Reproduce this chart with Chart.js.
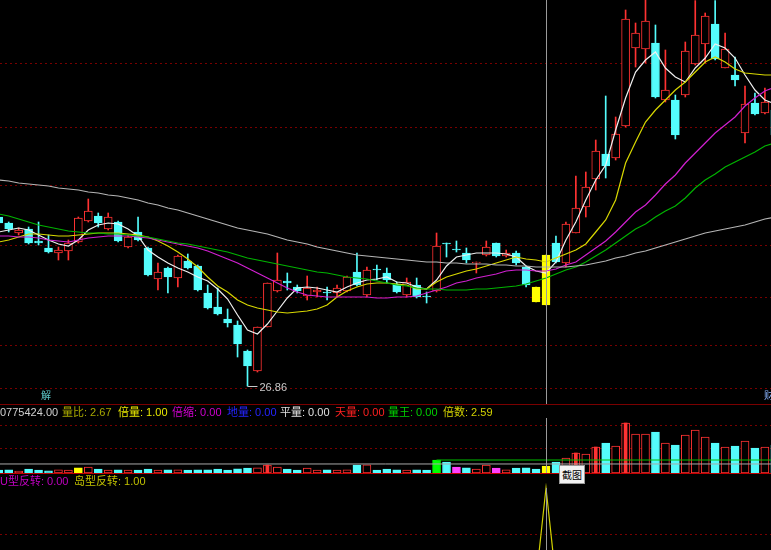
<!DOCTYPE html>
<html>
<head>
<meta charset="utf-8">
<script src="https://cdn.jsdelivr.net/npm/chart.js@4.4.1/dist/chart.umd.min.js"></script>
<style>
html,body{margin:0;padding:0;background:#000;overflow:hidden;}
#wrap{position:relative;width:771px;height:550px;background:#000;overflow:hidden;font-family:"Liberation Sans","Noto Sans CJK SC",sans-serif;}
canvas{position:absolute;left:0;}
.t{position:absolute;font-size:11px;line-height:13px;white-space:nowrap;}
.sep{position:absolute;left:0;width:771px;height:1px;}
</style>
</head>
<body>
<div id="wrap">
<canvas id="main" width="771" height="404" style="top:0px"></canvas>
<canvas id="vol" width="771" height="70" style="top:404px"></canvas>
<canvas id="ind" width="771" height="76" style="top:474px"></canvas>
<div class="sep" style="top:404px;background:#7a0000"></div>
<div class="sep" style="top:473px;background:#c00000"></div>

<span class="t" style="left:0px;top:406px;color:#d0d0d0">0775424.00</span>
<span class="t" style="left:62px;top:406px;color:#a8a800">量比: 2.67</span>
<span class="t" style="left:118px;top:406px;color:#e8e800">倍量: 1.00</span>
<span class="t" style="left:172px;top:406px;color:#d000d0">倍缩: 0.00</span>
<span class="t" style="left:227px;top:406px;color:#2424ff">地量: 0.00</span>
<span class="t" style="left:280px;top:406px;color:#e0e0e0">平量: 0.00</span>
<span class="t" style="left:335px;top:406px;color:#ff2020">天量: 0.00</span>
<span class="t" style="left:388px;top:406px;color:#00d000">量王: 0.00</span>
<span class="t" style="left:443px;top:406px;color:#d0d000">倍数: 2.59</span>

<span class="t" style="left:0px;top:475px;color:#c000c0">U型反转: 0.00</span>
<span class="t" style="left:74px;top:475px;color:#c0c000">岛型反转: 1.00</span>

<span class="t" style="left:41px;top:389px;font-size:10px;color:#5cc8c8">解</span>
<span class="t" style="left:764px;top:389px;font-size:10px;color:#8ab4ff">财</span>

<div style="position:absolute;left:559px;top:465px;width:24px;height:17px;background:#f2f2f2;border:1px solid #9a9a9a;color:#000;font-size:10px;line-height:17px;text-align:center;font-family:'Noto Sans CJK SC',sans-serif;">截图</div>
</div>

<script>
// ---------------- data (index 0 = partially visible first day) ----------------
const open = [
 35.31, 35.01, 34.51, 34.71, 34.11, 33.76, 33.51, 33.61, 34.06, 35.11,
 35.36, 34.71, 35.06, 33.81, 34.56, 33.76, 32.21, 32.76, 32.26, 33.11,
 32.86, 31.51, 30.81, 30.21, 29.91, 28.61, 27.61, 29.81, 31.61, 32.11,
 31.81, 31.36, 31.56, 31.56, 31.51, 31.61, 32.56, 31.41, 32.71, 32.51,
 31.96, 31.41, 31.91, 31.36, 31.61, 34.01, 33.71, 33.51, 33.01, 33.41,
 34.01, 33.36, 33.51, 32.81, 31.81, 30.91, 34.01, 33.01, 34.51, 35.81,
 37.21, 38.46, 38.26, 39.86, 43.76, 43.71, 44.01, 41.16, 41.16, 41.41,
 42.96, 43.96, 44.96, 42.76, 42.41, 39.51, 41.01, 40.51, 40.66];
const close = [
 35.01, 34.71, 34.66, 34.01, 34.01, 33.56, 33.66, 34.01, 35.26, 35.61,
 35.01, 35.31, 34.11, 34.31, 34.16, 32.41, 32.56, 32.31, 33.36, 32.76,
 31.66, 30.76, 30.46, 30.01, 28.96, 27.86, 29.81, 32.01, 32.16, 32.01,
 31.61, 31.76, 31.66, 31.51, 31.76, 32.31, 31.91, 32.66, 32.66, 32.16,
 31.56, 32.06, 31.31, 31.31, 33.86, 33.96, 33.66, 33.16, 33.06, 33.81,
 33.36, 33.51, 33.01, 31.91, 31.06, 33.41, 33.06, 34.96, 35.76, 36.81,
 38.61, 37.86, 39.46, 45.21, 44.51, 45.11, 41.31, 41.66, 39.41, 43.61,
 44.41, 45.36, 43.21, 43.71, 42.16, 40.96, 40.46, 41.06, 39.41];
const high = [
 35.51, 35.06, 34.76, 34.81, 35.06, 34.41, 33.81, 34.16, 35.31, 36.21,
 35.51, 35.51, 35.11, 34.41, 35.31, 33.81, 33.01, 32.81, 33.41, 33.46,
 32.91, 31.91, 31.76, 30.71, 30.11, 28.66, 29.81, 32.01, 33.51, 32.51,
 31.91, 32.36, 31.81, 31.81, 31.91, 32.36, 33.51, 32.81, 32.91, 32.76,
 32.06, 32.26, 32.26, 31.56, 34.51, 34.01, 34.11, 33.76, 33.06, 34.11,
 34.01, 33.66, 33.61, 32.86, 31.81, 33.41, 34.36, 35.06, 37.36, 37.56,
 39.16, 41.36, 40.31, 45.66, 45.01, 46.43, 44.91, 43.66, 41.41, 44.06,
 46.13, 45.51, 46.13, 44.51, 43.31, 41.86, 41.51, 41.76, 40.91];
const low = [
 34.86, 34.56, 34.41, 33.96, 33.91, 33.51, 33.16, 33.16, 34.01, 35.06,
 34.81, 34.66, 34.06, 33.76, 34.11, 32.36, 31.66, 31.51, 31.81, 32.71,
 31.61, 30.71, 30.41, 29.81, 28.31, 26.86, 27.56, 29.81, 31.56, 31.66,
 31.51, 31.16, 31.31, 31.16, 31.31, 31.56, 31.86, 31.31, 32.16, 32.01,
 31.51, 31.31, 31.26, 31.01, 31.56, 33.31, 33.56, 33.01, 32.51, 33.36,
 33.31, 33.31, 32.91, 31.81, 31.06, 30.91, 33.01, 32.81, 34.51, 35.31,
 36.66, 37.26, 38.16, 39.81, 42.81, 43.01, 41.26, 41.06, 39.21, 41.31,
 42.91, 43.01, 43.16, 42.76, 41.86, 39.01, 40.41, 40.46, 39.36];

const ma5 = [
 34.56, 34.66, 34.76, 34.66, 34.41, 34.16, 33.96, 33.86, 34.16, 34.66,
 34.91, 35.01, 34.96, 34.71, 34.36, 33.66, 33.31, 33.01, 32.76, 32.56,
 32.31, 32.11, 31.71, 31.21, 30.41, 29.66, 29.46, 29.96, 30.61, 31.26,
 31.76, 31.81, 31.76, 31.66, 31.56, 31.81, 32.01, 32.16, 32.21, 32.31,
 32.06, 32.01, 31.81, 31.71, 32.16, 32.86, 33.31, 33.41, 33.51, 33.51,
 33.51, 33.46, 33.31, 32.86, 32.61, 32.51, 33.06, 34.16, 35.06, 36.16,
 37.16, 37.91, 39.66, 41.26, 42.56, 43.16, 43.56, 42.76, 42.31, 42.06,
 42.76, 43.26, 43.96, 43.76, 43.26, 42.41, 41.66, 41.16, 40.96];
const ma10 = [
 34.06, 34.16, 34.31, 34.46, 34.46, 34.41, 34.36, 34.36, 34.41, 34.46,
 34.51, 34.51, 34.51, 34.46, 34.41, 34.31, 34.11, 33.86, 33.56, 33.21,
 32.81, 32.31, 31.86, 31.56, 31.16, 30.91, 30.76, 30.66, 30.56, 30.51,
 30.56, 30.61, 30.71, 30.91, 31.31, 31.61, 31.81, 31.96, 32.01, 32.01,
 31.96, 31.91, 31.71, 31.71, 32.06, 32.31, 32.46, 32.61, 32.71, 32.86,
 33.01, 33.16, 33.31, 33.21, 33.16, 33.06, 33.26, 33.46, 33.66, 33.96,
 34.56, 35.16, 36.16, 38.01, 39.06, 40.06, 40.66, 41.16, 41.66, 42.06,
 42.56, 43.06, 43.31, 43.06, 42.71, 42.51, 42.46, 42.41, 42.41];
const ma20 = [
 34.36, 34.36, 34.31, 34.31, 34.26, 34.16, 34.11, 34.06, 34.16, 34.26,
 34.31, 34.36, 34.36, 34.36, 34.31, 34.26, 34.16, 34.06, 33.96, 33.86,
 33.76, 33.61, 33.41, 33.21, 33.01, 32.76, 32.51, 32.26, 32.01, 31.76,
 31.56, 31.41, 31.36, 31.31, 31.31, 31.31, 31.31, 31.31, 31.26, 31.26,
 31.31, 31.31, 31.36, 31.51, 31.66, 31.81, 32.01, 32.11, 32.26, 32.36,
 32.46, 32.61, 32.66, 32.66, 32.61, 32.61, 32.71, 32.91, 33.06, 33.41,
 33.76, 34.11, 34.56, 35.06, 35.56, 35.91, 36.41, 36.96, 37.41, 38.01,
 38.51, 39.01, 39.51, 39.91, 40.31, 40.86, 41.26, 41.61, 41.81];
const ma30 = [
 35.46, 35.36, 35.21, 35.06, 34.91, 34.81, 34.71, 34.61, 34.56, 34.51,
 34.51, 34.46, 34.46, 34.41, 34.36, 34.31, 34.21, 34.11, 34.01, 33.96,
 33.86, 33.76, 33.66, 33.56, 33.41, 33.26, 33.16, 33.06, 32.96, 32.86,
 32.76, 32.66, 32.56, 32.51, 32.41, 32.31, 32.26, 32.21, 32.11, 32.01,
 31.91, 31.86, 31.76, 31.71, 31.71, 31.66, 31.66, 31.66, 31.71, 31.71,
 31.76, 31.81, 31.86, 31.96, 32.11, 32.26, 32.46, 32.66, 32.81, 33.06,
 33.36, 33.66, 34.01, 34.36, 34.71, 34.96, 35.31, 35.61, 35.86, 36.26,
 36.76, 37.16, 37.46, 37.81, 38.06, 38.31, 38.56, 38.86, 39.01];
const ma120 = [
 37.16, 37.11, 37.01, 36.96, 36.91, 36.86, 36.76, 36.71, 36.66, 36.56,
 36.51, 36.41, 36.36, 36.26, 36.16, 36.01, 35.91, 35.76, 35.66, 35.51,
 35.36, 35.21, 35.06, 34.91, 34.76, 34.66, 34.56, 34.46, 34.31, 34.16,
 34.06, 33.96, 33.81, 33.71, 33.61, 33.51, 33.41, 33.36, 33.31, 33.26,
 33.21, 33.16, 33.11, 33.06, 33.06, 33.01, 33.01, 32.96, 32.96, 32.96,
 32.91, 32.91, 32.86, 32.86, 32.81, 32.81, 32.81, 32.81, 32.86, 32.91,
 33.01, 33.11, 33.26, 33.36, 33.51, 33.61, 33.76, 33.91, 34.06, 34.21,
 34.36, 34.51, 34.61, 34.71, 34.81, 34.91, 35.06, 35.21, 35.31];

// volume, in 10k shares
const volume = [
 460, 470, 310, 600, 450, 320, 470, 450, 780, 930,
 610, 460, 470, 440, 460, 620, 450, 470, 480, 450,
 470, 480, 610, 460, 630, 770, 790, 1230, 920, 600,
 460, 770, 450, 470, 460, 480, 1220, 1240, 460, 610,
 470, 460, 480, 450, 2000, 1690, 920, 780, 620, 1230,
 770, 470, 760, 780, 610, 1077.5424, 1700, 2310, 3080, 2930,
 4000, 4620, 4160, 7700, 6000, 6010, 6310, 4620, 4310, 5850,
 6620, 5540, 4620, 4000, 4160, 4930, 3850, 4000, 4310];

const islandCandles = [54, 55];
const doubleVolumeDays = [8, 55];
const kingVolumeDays = [44];
const shrinkVolumeDays = [46, 50];
const heavyVolumeDays = [27, 58, 60, 63];
const avgVolumeLevel = 1390;

const uReversal = [
 0,0,0,0,0,0,0,0,0,0, 0,0,0,0,0,0,0,0,0,0,
 0,0,0,0,0,0,0,0,0,0, 0,0,0,0,0,0,0,0,0,0,
 0,0,0,0,0,0,0,0,0,0, 0,0,0,0,0,0,0,0,0,0,
 0,0,0,0,0,0,0,0,0,0, 0,0,0,0,0,0,0,0,0];
const islandReversal = [
 0,0,0,0,0,0,0,0,0,0, 0,0,0,0,0,0,0,0,0,0,
 0,0,0,0,0,0,0,0,0,0, 0,0,0,0,0,0,0,0,0,0,
 0,0,0,0,0,0,0,0,0,0, 0,0,0,0,0,1,0,0,0,0,
 0,0,0,0,0,0,0,0,0,0, 0,0,0,0,0,0,0,0,0];

const priceGridLevels = [26.76, 28.91, 31.31, 33.91, 36.91, 39.81, 43.01];
const volumeGridLevels = [3850, 7390];
const signalGridLevels = [0.5];
const crosshairIndex = 55;

// ---------------- styling ----------------
const UP = '#ff3232', DOWN = '#54fcfc', ISLAND = '#ffff00';
const GRID = '#780000';
const X_MIN = 0.126, X_MAX = 77.613;
const idx = open.map((_, k) => k);
const isUp = k => close[k] >= open[k];

const xScale = {type: 'linear', min: X_MIN, max: X_MAX, display: false, offset: false, grid: {offset: false}};

function panelPlugin(levels, crossTop, extra) {
  return {
    id: 'panel',
    beforeDatasetsDraw(chart) {
      const {ctx, chartArea: {left, right}, scales: {y}} = chart;
      ctx.save();
      ctx.strokeStyle = GRID; ctx.lineWidth = 1; ctx.setLineDash([2, 3]);
      levels.forEach(v => {
        const py = Math.round(y.getPixelForValue(v)) + 0.5;
        ctx.beginPath(); ctx.moveTo(left, py); ctx.lineTo(right, py); ctx.stroke();
      });
      ctx.restore();
    },
    afterDatasetsDraw(chart) {
      const {ctx, chartArea: {bottom}, scales: {x}} = chart;
      ctx.save();
      const px = Math.round(x.getPixelForValue(crosshairIndex)) + 0.5;
      ctx.strokeStyle = '#9a9a9a'; ctx.lineWidth = 1;
      ctx.beginPath(); ctx.moveTo(px, crossTop); ctx.lineTo(px, bottom); ctx.stroke();
      ctx.restore();
      if (extra) extra(chart);
    }
  };
}

function extremeLabels(chart) {
  const {ctx, scales: {x, y}} = chart;
  const lo = Math.min(...low), hi = Math.max(...high);
  const li = low.indexOf(lo), hiI = high.indexOf(hi);
  ctx.save();
  ctx.font = '11px "Liberation Sans", sans-serif';
  ctx.textBaseline = 'middle';
  ctx.fillStyle = '#c8c8c8'; ctx.strokeStyle = '#c8c8c8'; ctx.lineWidth = 1;
  [[li, lo], [hiI, hi]].forEach(([k, v]) => {
    const px = x.getPixelForValue(k), py = Math.round(y.getPixelForValue(v)) + 0.5;
    ctx.beginPath(); ctx.moveTo(px, py); ctx.lineTo(px + 10, py); ctx.stroke();
    ctx.fillText(v.toFixed(2), px + 12, py + 1);
  });
  ctx.restore();
}

const common = {
  responsive: false, animation: false, devicePixelRatio: 1, events: [],
  layout: {padding: 0},
  plugins: {legend: {display: false}, tooltip: {enabled: false}}
};

function lineDs(data, color, order) {
  return {type: 'line', data: idx.map(k => ({x: k, y: data[k]})), borderColor: color,
    borderWidth: 1.2, pointRadius: 0, tension: 0, order: order || 0};
}

// ---------------- main candlestick panel ----------------
const candleColor = idx.map(k => islandCandles.includes(k) ? ISLAND : (isUp(k) ? UP : DOWN));
const candleFill = idx.map(k => islandCandles.includes(k) ? ISLAND : (isUp(k) ? '#000000' : DOWN));

new Chart(document.getElementById('main'), {
  type: 'bar',
  data: {
    datasets: [
      {data: idx.map(k => ({x: k, y: [low[k], high[k]]})), backgroundColor: candleColor,
        borderWidth: 0, barThickness: 1, maxBarThickness: 1, grouped: false, order: 3},
      {data: idx.map(k => ({x: k, y: [open[k], close[k]]})), backgroundColor: candleFill,
        borderColor: candleColor, borderWidth: 1, borderSkipped: false,
        barThickness: 8, maxBarThickness: 8, grouped: false, order: 2},
      lineDs(ma120, '#b4b4b4'),
      lineDs(ma30, '#00b400'),
      lineDs(ma20, '#d020d0'),
      lineDs(ma10, '#d8d800'),
      lineDs(ma5, '#f0f0f0')
    ]
  },
  options: Object.assign({}, common, {
    scales: {x: xScale, y: {type: 'linear', min: 25.96, max: 46.16, display: false}}
  }),
  plugins: [panelPlugin(priceGridLevels, 0, extremeLabels)]
});

// ---------------- volume panel ----------------
function volColor(k) {
  if (doubleVolumeDays.includes(k)) return ISLAND;
  if (kingVolumeDays.includes(k)) return '#00ff00';
  if (shrinkVolumeDays.includes(k)) return '#ff40ff';
  return isUp(k) ? UP : DOWN;
}
function volFill(k) {
  if (doubleVolumeDays.includes(k) || kingVolumeDays.includes(k) || shrinkVolumeDays.includes(k)) return volColor(k);
  return isUp(k) ? '#000000' : DOWN;
}
const kingLevel = volume[kingVolumeDays[0]];

new Chart(document.getElementById('vol'), {
  type: 'bar',
  data: {
    datasets: [
      {data: idx.map(k => ({x: k, y: volume[k]})), backgroundColor: idx.map(volFill),
        borderColor: idx.map(volColor), borderWidth: 1, borderSkipped: false,
        barThickness: 8, maxBarThickness: 8, grouped: false, order: 2},
      {data: heavyVolumeDays.map(k => ({x: k, y: volume[k]})), backgroundColor: UP,
        borderWidth: 0, barThickness: 3, maxBarThickness: 3, grouped: false, order: 1},
      {type: 'line', data: [{x: 0, y: avgVolumeLevel}, {x: idx.length - 1, y: avgVolumeLevel}],
        borderColor: '#a8a8a8', borderWidth: 1, pointRadius: 0, order: 0},
      {type: 'line', data: [{x: kingVolumeDays[0], y: kingLevel}, {x: idx.length - 1, y: kingLevel}],
        borderColor: '#00c000', borderWidth: 1, pointRadius: 0, order: 0}
    ]
  },
  options: Object.assign({}, common, {
    scales: {x: xScale, y: {type: 'linear', min: -154, max: 10626, display: false}}
  }),
  plugins: [panelPlugin(volumeGridLevels, 14)]
});

// ---------------- reversal signal panel ----------------
new Chart(document.getElementById('ind'), {
  type: 'line',
  data: {
    datasets: [
      lineDs(uReversal, '#c000c0'),
      lineDs(islandReversal, '#d0d000')
    ]
  },
  options: Object.assign({}, common, {
    scales: {x: xScale, y: {type: 'linear', min: 0.326, max: 1.152, display: false}}
  }),
  plugins: [panelPlugin(signalGridLevels, 14)]
});
</script>
</body>
</html>
